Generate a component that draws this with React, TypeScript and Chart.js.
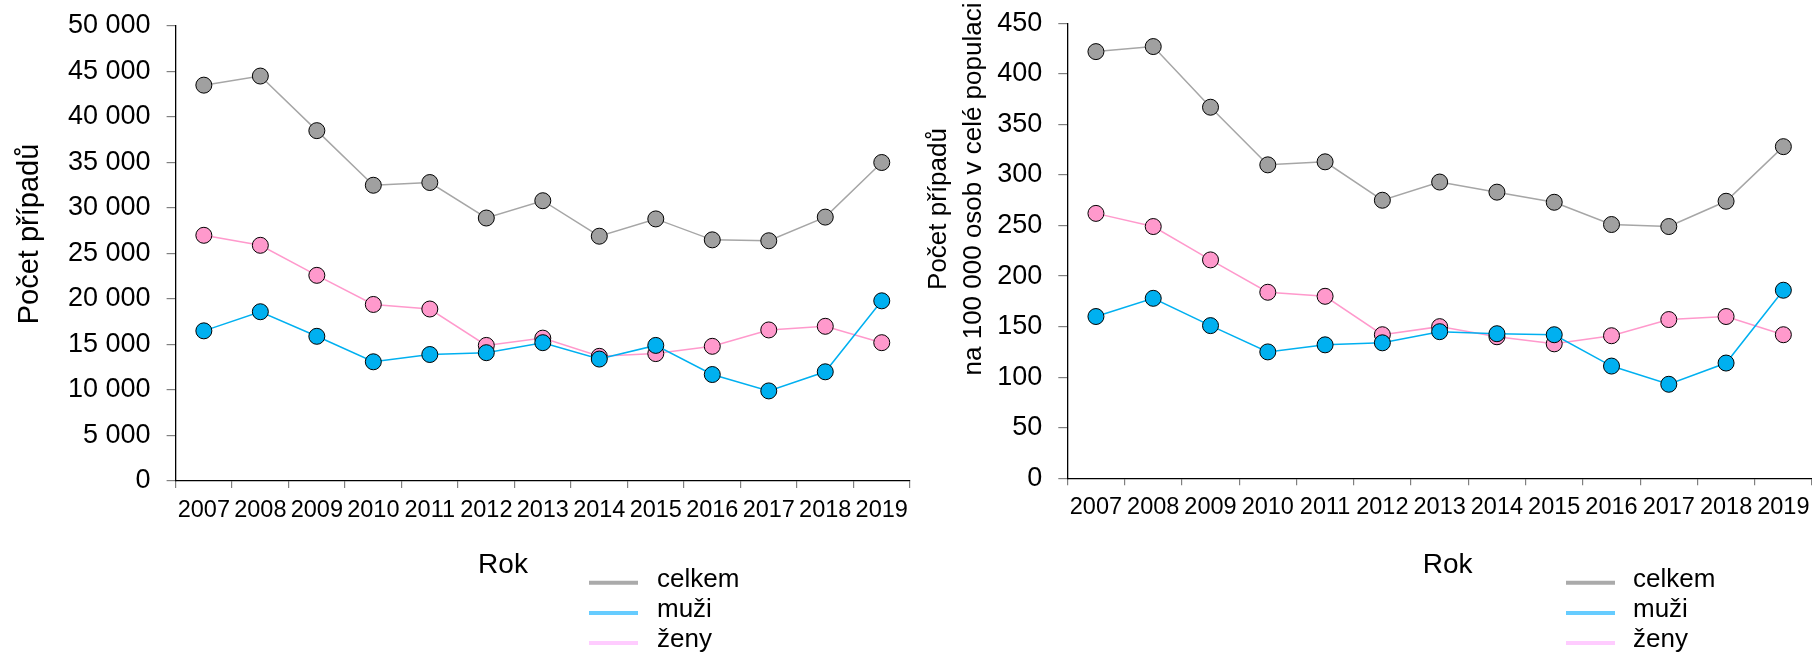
import React, { useEffect, useRef } from 'react';
import { Chart, registerables } from 'chart.js';

Chart.register(...registerables);

const FONT = '"Liberation Sans", Arial, sans-serif';

const YEARS = ['2007', '2008', '2009', '2010', '2011', '2012', '2013', '2014', '2015', '2016', '2017', '2018', '2019'];

const COUNT_TOTAL = [43500, 44500, 38500, 32500, 32800, 28900, 30800, 26900, 28800, 26500, 26400, 29000, 35000];
const COUNT_MEN = [16500, 18600, 15900, 13100, 13900, 14100, 15200, 13400, 14900, 11700, 9900, 12000, 19800];
const COUNT_WOMEN = [27000, 25900, 22600, 19400, 18900, 14900, 15700, 13700, 14000, 14800, 16600, 17000, 15200];

const RATE_TOTAL = [422, 427, 367, 310, 313, 275, 293, 283, 273, 251, 249, 274, 328];
const RATE_MEN = [160, 178, 151, 125, 132, 134, 145, 143, 142, 111, 93, 114, 186];
const RATE_WOMEN = [262, 249, 216, 184, 180, 142, 150, 140, 133, 141, 157, 160, 142];

const SERIES_LABELS = ['celkem', 'muži', 'ženy'];
const LEFT_Y_TITLE = ['Počet případů'];
const RIGHT_Y_TITLE = ['Počet případů', 'na 100 000 osob v celé populaci'];
const X_TITLE = 'Rok';

const LINE_COLORS = ['#a6a6a6', '#00b0f0', '#ff99cc'];
const MARKER_COLORS = ['#a0a0a0', '#00b0f0', '#ff99cc'];
const LEGEND_COLORS = ['#aaaaaa', '#66ccff', '#ffccff'];

function fmt(v: number) {
  return String(v).replace(/\B(?=(\d{3})+(?!\d))/g, ' ');
}

type TitleLine = { text: string; x: number; y: number; size: number };

type PanelProps = {
  left: number;
  width: number;
  yWidth: number;
  xHeight: number;
  padTop: number;
  padRight: number;
  yMax: number;
  yStep: number;
  series: number[][];
  titleLines: TitleLine[];
  rokX: number;
  rokY: number;
  legendX0: number;
  legendX1: number;
  legendTextX: number;
  legendYs: number[];
};

function Panel(p: PanelProps) {
  const ref = useRef<HTMLCanvasElement | null>(null);

  useEffect(() => {
    if (!ref.current) return;
    const overlay = {
      id: 'overlay',
      afterDraw(chart: any) {
        const ctx = chart.ctx;
        ctx.save();
        ctx.fillStyle = '#000';
        for (const t of p.titleLines) {
          ctx.save();
          ctx.translate(t.x, t.y);
          ctx.rotate(-Math.PI / 2);
          ctx.font = `${t.size}px ${FONT}`;
          ctx.textAlign = 'center';
          ctx.textBaseline = 'middle';
          ctx.fillText(t.text, 0, 0);
          ctx.restore();
        }
        ctx.font = `28px ${FONT}`;
        ctx.textAlign = 'center';
        ctx.textBaseline = 'middle';
        ctx.fillText(X_TITLE, p.rokX, p.rokY);
        ctx.font = `26px ${FONT}`;
        ctx.textAlign = 'left';
        SERIES_LABELS.forEach((lab, i) => {
          const y = p.legendYs[i];
          ctx.strokeStyle = LEGEND_COLORS[i];
          ctx.lineWidth = 4;
          ctx.beginPath();
          ctx.moveTo(p.legendX0, y);
          ctx.lineTo(p.legendX1, y);
          ctx.stroke();
          ctx.fillStyle = '#000';
          ctx.fillText(lab, p.legendTextX, y - 3);
        });
        ctx.restore();
      },
    };

    const orders = [2, 0, 1];
    const chart = new Chart(ref.current, {
      type: 'line',
      data: {
        labels: YEARS,
        datasets: p.series.map((d, i) => ({
          label: SERIES_LABELS[i],
          data: d,
          borderColor: LINE_COLORS[i],
          borderWidth: 1.5,
          backgroundColor: MARKER_COLORS[i],
          pointBackgroundColor: MARKER_COLORS[i],
          pointBorderColor: '#000',
          pointBorderWidth: 1,
          pointRadius: 8,
          tension: 0,
          fill: false,
          clip: false,
          order: orders[i],
        })),
      },
      options: {
        animation: false,
        responsive: false,
        maintainAspectRatio: false,
        events: [],
        layout: { autoPadding: false, padding: { left: 0, top: p.padTop, right: p.padRight, bottom: 0 } },
        plugins: {
          legend: { display: false },
          tooltip: { enabled: false },
          title: { display: false },
        },
        scales: {
          x: {
            type: 'category',
            offset: true,
            grid: {
              display: true,
              offset: true,
              drawOnChartArea: false,
              drawTicks: true,
              tickLength: 7,
              color: '#808080',
              lineWidth: 1.2,
            },
            border: { display: true, color: '#000', width: 1.3 },
            ticks: {
              autoSkip: false,
              maxRotation: 0,
              minRotation: 0,
              padding: 8,
              color: '#000',
              font: { family: FONT, size: 23.5 },
            },
            afterFit: (scale: any) => {
              scale.height = p.xHeight;
              scale.paddingLeft = 0;
              scale.paddingRight = 0;
            },
          },
          y: {
            min: 0,
            max: p.yMax,
            grid: {
              display: true,
              drawOnChartArea: false,
              drawTicks: true,
              tickLength: 9,
              color: '#808080',
              lineWidth: 1.2,
            },
            border: { display: true, color: '#000', width: 1.3 },
            ticks: {
              stepSize: p.yStep,
              padding: 16,
              color: '#000',
              font: { family: FONT, size: 27 },
              callback: (v: any) => fmt(Number(v)),
            },
            afterFit: (scale: any) => {
              scale.width = p.yWidth;
              scale.paddingTop = 0;
              scale.paddingBottom = 0;
            },
          },
        },
      },
      plugins: [overlay],
    } as any);
    return () => chart.destroy();
  }, []);

  return (
    <canvas
      ref={ref}
      width={p.width}
      height={656}
      style={{ position: 'absolute', left: p.left, top: 0, width: p.width, height: 656 }}
    />
  );
}

export default function App() {
  return (
    <div
      style={{
        position: 'absolute',
        left: 0,
        top: 0,
        width: 1812,
        height: 656,
        overflow: 'hidden',
        background: '#fff',
      }}
    >
      <Panel
        left={0}
        width={920}
        yWidth={175.6}
        xHeight={175}
        padTop={26}
        padRight={10}
        yMax={50000}
        yStep={5000}
        series={[COUNT_TOTAL, COUNT_MEN, COUNT_WOMEN]}
        titleLines={[{ text: LEFT_Y_TITLE[0], x: 30, y: 234, size: 29 }]}
        rokX={503}
        rokY={565}
        legendX0={589}
        legendX1={638}
        legendTextX={657}
        legendYs={[582.7, 613, 643]}
      />
      <Panel
        left={920}
        width={892}
        yWidth={147.3}
        xHeight={177.7}
        padTop={23.3}
        padRight={0}
        yMax={450}
        yStep={50}
        series={[RATE_TOTAL, RATE_MEN, RATE_WOMEN]}
        titleLines={[
          { text: RIGHT_Y_TITLE[0], x: 19, y: 209, size: 26 },
          { text: RIGHT_Y_TITLE[1], x: 54, y: 189, size: 26 },
        ]}
        rokX={527.7}
        rokY={565}
        legendX0={646}
        legendX1={695}
        legendTextX={713}
        legendYs={[582.7, 613, 643]}
      />
    </div>
  );
}
